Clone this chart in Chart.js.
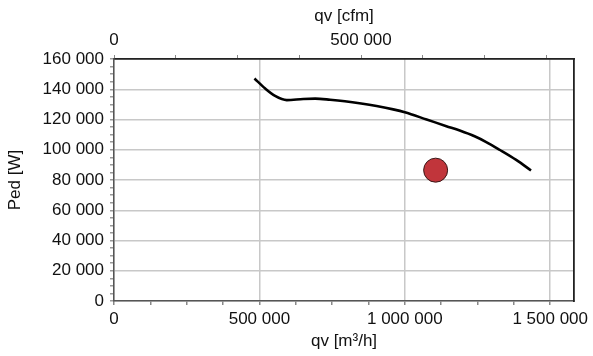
<!DOCTYPE html>
<html>
<head>
<meta charset="utf-8">
<script src="https://cdn.jsdelivr.net/npm/chart.js@4.4.0/dist/chart.umd.min.js"></script>
<style>
body{margin:0;background:#fff;}
#grafico1{display:block;}
</style>
</head>
<body>
<canvas id="grafico1" width="593" height="356"></canvas>
<script>
// curva de potencia
const qvCurva  = [483000, 520000, 554000, 594000, 651000, 692000, 743000, 794000, 850000, 903000, 960000, 1000000, 1075000, 1143000, 1189000, 1240000, 1280000, 1326000, 1383000, 1434000];
const pedCurva = [147100, 140500, 135600, 132800, 133600, 133800, 133100, 132100, 130600, 128900, 126700, 124800, 120000, 115600, 112700, 108900, 105100, 100000, 93300, 86300];
// punto de trabajo
const qvPunto  = [1106000];
const pedPunto = [86500];
// marcas y etiquetas de los ejes
const marcasX      = [0, 125000, 250000, 375000, 500000, 625000, 750000, 875000, 1000000, 1125000, 1250000, 1375000, 1500000];
const etiquetasX   = [0, 500000, 1000000, 1500000];
const marcasCfm    = [0, 125000, 250000, 375000, 500000, 625000, 750000, 875000];
const etiquetasCfm = [0, 500000];
const etiquetasY   = [0, 20000, 40000, 60000, 80000, 100000, 120000, 140000, 160000];

const maxQv = 1582000;
const cfm = 1.699;

function formato(v){
    return String(Math.round(v)).replace(/\B(?=(\d{3})+(?!\d))/g, ' ');
}

let fuente = {family:"'Liberation Sans', Arial, sans-serif", size:17};
let gris = '#c8c8c8';

let curva = qvCurva.map((q,i) => ({x:q, y:pedCurva[i]}));
let punto = qvPunto.map((q,i) => ({x:q, y:pedPunto[i]}));

let datos={
    datasets:[
        {
            data:curva,
            showLine:true,
            borderColor:'#000',
            borderWidth:2.6,
            pointRadius:0,
            cubicInterpolationMode:'monotone',
            xAxisID:'x',
            yAxisID:'y'
        },
        {
            data:punto,
            pointRadius:12,
            pointBackgroundColor:'#c1353b',
            pointBorderColor:'#3a1818',
            pointBorderWidth:1,
            xAxisID:'x',
            yAxisID:'y'
        }
    ]
}

let opciones={
    responsive:false,
    animation:false,
    layout:{padding:0},
    plugins:{legend:{display:false}, tooltip:{enabled:false}},
    scales:{
        x:{
            type:'linear', position:'bottom', min:0, max:maxQv,
            afterFit:s => { s.height = 55; },
            afterBuildTicks:s => { s.ticks = marcasX.map(v => ({value:v})); },
            ticks:{
                autoSkip:false, maxRotation:0, padding:4, color:'#111', font:fuente,
                callback:v => etiquetasX.includes(v) ? formato(v) : ''
            },
            grid:{
                color:c => (c.tick && etiquetasX.includes(c.tick.value)) ? gris : 'rgba(0,0,0,0)',
                lineWidth:1.5, tickLength:4, tickColor:'#888'
            },
            border:{display:true, color:'#555', width:1.5},
            title:{display:true, text:'qv [m³/h]', color:'#111', font:fuente, padding:{top:0, bottom:4}}
        },
        x2:{
            type:'linear', position:'top', min:0, max:maxQv/cfm, display:true,
            afterFit:s => { s.height = 59; },
            afterBuildTicks:s => { s.ticks = marcasCfm.map(v => ({value:v})); },
            ticks:{
                autoSkip:false, maxRotation:0, padding:4, color:'#111', font:fuente,
                callback:v => etiquetasCfm.includes(v) ? formato(v) : ''
            },
            grid:{drawOnChartArea:false, tickLength:4, tickColor:'#888'},
            border:{display:true, color:'#222', width:1.8},
            title:{display:true, text:'qv [cfm]', color:'#111', font:fuente, padding:{top:6, bottom:0}}
        },
        y:{
            type:'linear', position:'left', min:0, max:160000,
            afterFit:s => { s.width = 114; },
            ticks:{
                stepSize:5000, autoSkip:false, padding:6, color:'#111', font:fuente,
                callback:v => etiquetasY.includes(v) ? formato(v) : ''
            },
            grid:{
                color:c => (c.tick && c.tick.value % 20000 === 0) ? gris : 'rgba(0,0,0,0)',
                lineWidth:1.5, tickLength:4, tickColor:'#999'
            },
            border:{display:true, color:'#555', width:1.5},
            title:{display:true, text:'Ped [W]', color:'#111', font:fuente, padding:{top:5, bottom:0}}
        },
        y2:{
            type:'linear', position:'right', min:0, max:160000, display:true,
            afterFit:s => { s.width = 18; },
            ticks:{display:false},
            grid:{drawOnChartArea:false, drawTicks:false},
            border:{display:true, color:'#222', width:1.8}
        }
    }
}

let canvasG1=document.getElementById('grafico1').getContext('2d');
let G1 = new Chart(canvasG1,{
    type:'scatter',
    data:datos,
    options:opciones,
})
</script>
</body>
</html>
